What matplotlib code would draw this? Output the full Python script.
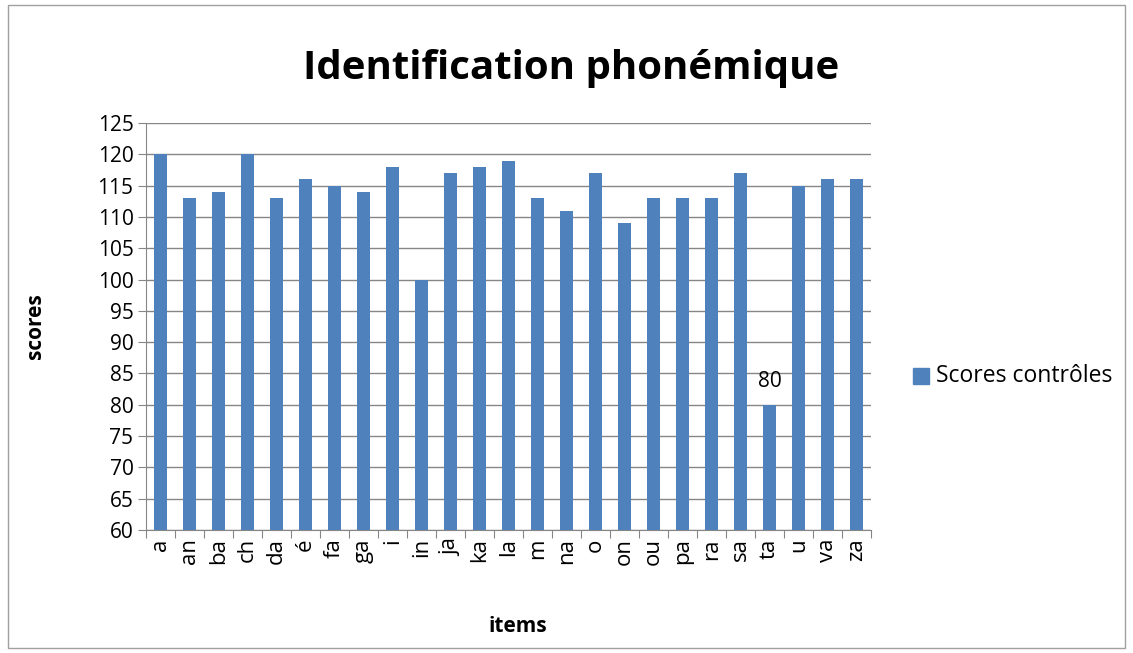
import matplotlib.pyplot as plt
from matplotlib.patches import Rectangle

items = ['a', 'an', 'ba', 'ch', 'da', 'é', 'fa', 'ga', 'i', 'in', 'ja', 'ka', 'la',
         'm', 'na', 'o', 'on', 'ou', 'pa', 'ra', 'sa', 'ta', 'u', 'va', 'za']
scores = [120, 113, 114, 120, 113, 116, 115, 114, 118, 100, 117, 118, 119,
          113, 111, 117, 109, 113, 113, 113, 117, 80, 115, 116, 116]
yticks = list(range(60, 126, 5))

plt.rcParams['font.family'] = ['Open Sans', 'DejaVu Sans']
blue = '#4f81bd'
grey = '#868686'

fig = plt.figure(figsize=(11.33, 6.53), dpi=100)
# outer chart border
fig.patches.append(Rectangle((0.007, 0.008), 0.986, 0.984, transform=fig.transFigure,
                             fill=False, edgecolor='#a0a0a0', lw=1))
ax = fig.add_axes([146/1133, 1-530/653, (871-146)/1133, (530-123)/653])

x = range(len(items))
ax.bar(x, scores, width=0.42, color=blue, zorder=3)
ax.set_xlim(-0.5, len(items)-0.5)
ax.set_ylim(60, 125)
ax.set_yticks(yticks)
ax.set_yticklabels([str(v) for v in yticks], fontsize=15)
ax.yaxis.grid(True, color=grey, lw=1, zorder=0)
ax.set_xticks([i + 0.5 for i in range(-1, len(items))])
ax.set_xticklabels([])
ax.tick_params(axis='x', length=6, color=grey)
ax.tick_params(axis='y', length=6, color=grey, pad=3)
for i, lab in enumerate(items):
    ax.text(i, -0.02, lab, transform=ax.get_xaxis_transform(), rotation=90,
            ha='center', va='top', fontsize=16)
for s in ['top', 'right']:
    ax.spines[s].set_visible(False)
for s in ['left', 'bottom']:
    ax.spines[s].set_color(grey)

ax.text(items.index('ta'), 80 + 2, '80', ha='center', va='bottom', fontsize=15)

fig.text(35/1133, 1-326/653, 'scores', rotation=90, ha='center', va='center',
         fontsize=15, fontweight='bold')
fig.text(518/1133, 1-626/653, 'items', ha='center', va='center',
         fontsize=15, fontweight='bold')
fig.text(571/1133, 1-68/653, 'Identification phonémique', ha='center', va='center',
         fontsize=29, fontweight='bold')

fig.patches.append(Rectangle((913/1133, 1-384/653), 16/1133, 16/653,
                             transform=fig.transFigure, color=blue))
fig.text(936/1133, 1-376/653, 'Scores contrôles', ha='left', va='center', fontsize=16.5)

fig.savefig('out.png', dpi=100)
